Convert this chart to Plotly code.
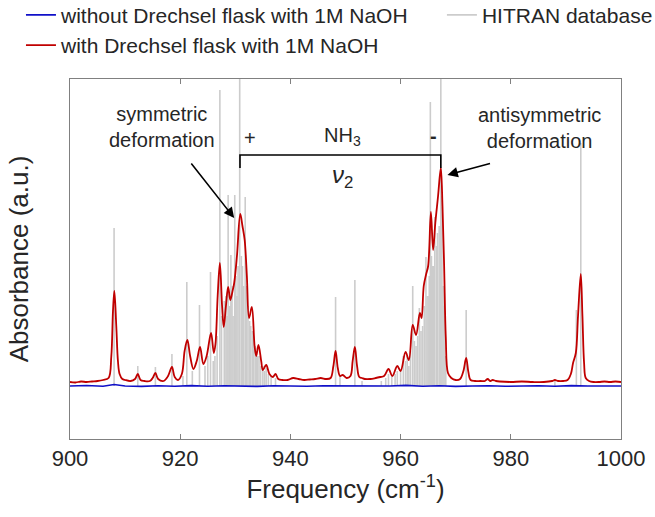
import plotly.graph_objects as go

# ---------------- data ----------------
# measured spectrum WITH Drechsel flask (red)
red_freq = [900.0, 901.0, 902.0, 903.0, 904.0, 905.0, 906.0, 907.0, 907.5, 907.8, 908.05, 908.4, 908.7, 909.0,
            909.5, 910.0, 911.0, 911.8, 912.3, 912.8, 913.5, 914.5, 915.0, 915.5, 916.0, 917.0, 917.8, 918.5,
            919.0, 919.6, 920.3, 920.8, 921.3, 921.8, 922.4, 923.0, 923.6, 924.2, 924.8, 925.6, 926.1, 926.4,
            926.8, 927.2, 927.6, 927.9, 928.3, 928.7, 929.1, 929.5, 929.8, 930.3, 930.9, 931.3, 931.7, 932.1,
            932.5, 933.0, 933.5, 933.8, 934.2, 934.7, 935.0, 935.6, 936.2, 936.8, 937.3, 937.8, 938.5, 939.5,
            940.5, 941.5, 942.5, 943.5, 944.5, 945.5, 946.5, 947.3, 947.8, 948.2, 948.6, 949.0, 949.5, 950.2,
            950.9, 951.3, 951.7, 952.1, 952.5, 953.0, 953.5, 954.5, 955.5, 956.3, 957.0, 957.8, 958.5, 959.4,
            960.0, 960.9, 961.5, 962.2, 962.8, 963.5, 963.8, 964.2, 964.6, 965.0, 965.5, 965.9, 966.3, 966.8,
            967.3, 967.6, 967.9, 968.2, 968.6, 969.2, 970.0, 970.8, 971.4, 971.9, 972.3, 972.7, 973.5, 974.5,
            975.3, 975.8, 976.3, 976.7, 977.3, 978.0, 980.0, 982.0, 984.0, 986.0, 987.5, 988.0, 988.6, 989.5,
            990.3, 990.9, 991.3, 991.8, 992.2, 992.7, 993.0, 993.3, 993.6, 994.2, 995.0, 996.0, 997.0, 998.0,
            999.0, 1000.0]
red_abs = [0.04, 0.035, 0.045, 0.04, 0.045, 0.05, 0.06, 0.08, 0.3, 0.75, 0.95, 0.6, 0.25, 0.12,
           0.07, 0.06, 0.05, 0.07, 0.12, 0.06, 0.05, 0.05, 0.08, 0.13, 0.07, 0.05, 0.1, 0.19,
           0.09, 0.06, 0.12, 0.35, 0.46, 0.3, 0.17, 0.25, 0.39, 0.22, 0.3, 0.53, 0.33, 0.42,
           0.9, 1.23, 0.8, 0.59, 0.8, 0.99, 0.86, 0.95, 1.03, 1.3, 1.72, 1.6, 1.46, 1.1,
           0.68, 0.79, 0.4, 0.3, 0.41, 0.25, 0.16, 0.21, 0.12, 0.09, 0.12, 0.07, 0.06, 0.06,
           0.08, 0.07, 0.06, 0.065, 0.07, 0.08, 0.07, 0.08, 0.2, 0.35, 0.18, 0.1, 0.11, 0.08,
           0.1, 0.25, 0.39, 0.2, 0.09, 0.08, 0.07, 0.07, 0.08, 0.09, 0.1, 0.17, 0.1, 0.2,
           0.15, 0.34, 0.26, 0.61, 0.51, 0.73, 0.68, 1.0, 1.11, 1.2, 1.74, 1.36, 1.63, 1.9,
           2.18, 1.8, 1.2, 0.49, 0.13, 0.08, 0.06, 0.07, 0.15, 0.28, 0.14, 0.06, 0.05, 0.05,
           0.05, 0.07, 0.05, 0.06, 0.05, 0.045, 0.04, 0.045, 0.04, 0.04, 0.05, 0.06, 0.05, 0.05,
           0.06, 0.12, 0.23, 0.33, 0.7, 1.12, 0.7, 0.23, 0.08, 0.05, 0.04, 0.04, 0.045, 0.04,
           0.045, 0.04]

# measured spectrum WITHOUT Drechsel flask (blue)
blue_freq = [900, 903, 906, 908, 910, 913, 916, 919, 922, 925, 928, 931, 934, 937, 940, 943, 946, 949,
             952, 955, 958, 961, 964, 967, 970, 973, 976, 979, 982, 985, 988, 991, 994, 997, 1000]
blue_abs = [0.0, 0.005, -0.003, 0.015, 0.0, -0.004, 0.003, -0.002, 0.004, -0.003, 0.002, 0.0, -0.004, 0.003,
            0.0, -0.003, 0.002, 0.0, 0.004, -0.002, 0.0, 0.006, -0.003, 0.002, -0.004, 0.0, 0.003, -0.003,
            0.0, 0.002, -0.002, 0.004, 0.0, -0.002, 0.0]

# HITRAN stick spectrum (grey)
hitran_freq = [908.0, 912.3, 915.5, 918.5, 920.5, 921.2, 922.2, 923.5, 924.5, 925.0, 925.5, 926.0, 926.3,
               926.7, 927.2, 927.5, 928.0, 928.3, 928.5, 928.7, 929.0, 929.2, 929.4, 929.6, 929.9, 930.1,
               930.3, 930.5, 930.8, 931.1, 931.3, 931.5, 931.8, 932.0, 932.3, 932.6, 932.8, 933.1, 933.3,
               933.6, 933.8, 934.0, 934.3, 934.6, 935.0, 935.3, 935.6, 936.0, 936.5, 937.3,
               948.2, 949.0, 951.7, 953.0,
               956.5, 957.3, 957.8, 958.4, 959.0, 959.4, 960.0, 960.5, 960.9, 961.2, 961.5, 961.8, 962.2,
               962.5, 962.8, 963.1, 963.4, 963.7, 964.0, 964.3, 964.6, 964.8, 965.0, 965.2, 965.4, 965.6,
               965.8, 966.0, 966.2, 966.5, 966.7, 967.0, 967.3, 967.5, 967.7, 967.9, 968.2,
               971.9, 988.0, 991.9, 992.7]
hitran_int = [1.58, 0.20, 0.19, 0.32, 0.10, 1.04, 0.15, 0.81, 0.20, 0.30, 1.14, 0.25, 0.30,
              0.50, 2.96, 0.70, 0.85, 0.90, 0.70, 1.91, 0.80, 1.31, 1.00, 0.70, 1.91, 1.10,
              0.90, 1.20, 3.50, 1.30, 1.20, 1.00, 1.89, 1.00, 0.80, 0.65, 0.60, 0.55, 0.50,
              0.40, 0.35, 0.30, 0.30, 0.20, 0.20, 0.15, 0.18, 0.12, 0.10, 0.08,
              0.89, 0.10, 1.06, 0.05,
              0.05, 0.08, 0.12, 0.10, 0.12, 0.15, 0.15, 0.30, 0.25, 0.30, 0.20, 0.35, 1.00,
              0.45, 0.40, 0.50, 0.78, 0.55, 0.60, 0.80, 1.29, 0.90, 0.90, 1.10, 2.84, 1.30,
              1.20, 1.20, 1.69, 1.40, 1.53, 1.60, 3.50, 1.90, 1.00, 0.80, 0.30,
              0.76, 0.05, 0.76, 2.43]

x_ticks = [900, 920, 940, 960, 980, 1000]

# ---------------- figure ----------------
FONT = "Liberation Sans, Arial, sans-serif"
TXT = "#262626"

hx, hy = [], []
for f, h in zip(hitran_freq, hitran_int):
    hx += [f, f, None]
    hy += [0.0, h, None]

fig = go.Figure()
fig.add_trace(go.Scatter(x=hx, y=hy, mode="lines", name="HITRAN database",
                         line=dict(color="#cccccc", width=1.6), legend="legend2",
                         connectgaps=False, hoverinfo="skip"))
fig.add_trace(go.Scatter(x=blue_freq, y=blue_abs, mode="lines",
                         name="without Drechsel flask with 1M NaOH",
                         line=dict(color="#1010c8", width=1.6), legendrank=1))
fig.add_trace(go.Scatter(x=red_freq, y=red_abs, mode="lines", line_shape="spline",
                         name="with Drechsel flask with 1M NaOH",
                         line=dict(color="#c00000", width=1.8), legendrank=2))


def txt(x, y, s, size=20):
    return dict(x=x, y=y, xref="x", yref="y", text=s, showarrow=False,
                font=dict(family=FONT, color=TXT, size=size))


def arrow(x, y, ax, ay):
    return dict(x=x, y=y, ax=ax, ay=ay, xref="x", yref="y", axref="x", ayref="y",
                text="", showarrow=True, arrowhead=2, arrowsize=1.3, arrowwidth=1.6,
                arrowcolor="black")


anns = [
    txt(916.7, 2.595, "symmetric<br>deformation"),
    txt(985.2, 2.585, "antisymmetric<br>deformation"),
    txt(932.7, 2.48, "+"),
    txt(965.9, 2.50, "<b>-</b>"),
    txt(949.5, 2.50, "NH<sub>3</sub>"),
    txt(949.4, 2.10, "<i>ν</i><sub>2</sub>", 24),
    arrow(929.8, 1.68, 921.8, 2.24),
    arrow(968.5, 2.11, 976.5, 2.23),
]
fig.update_layout(annotations=anns)

fig.add_shape(type="path", xref="x", yref="y",
              path="M 930.85,2.18 L 930.85,2.31 L 967.3,2.31 L 967.3,2.18",
              line=dict(color="black", width=1.6))

leg_common = dict(xanchor="left", yanchor="top", bgcolor="rgba(0,0,0,0)",
                  font=dict(family=FONT, size=21, color=TXT), tracegroupgap=0, itemwidth=30)

fig.update_layout(
    width=655, height=517,
    margin=dict(l=70, r=34, t=79, b=78, autoexpand=False),
    paper_bgcolor="white", plot_bgcolor="white",
    font=dict(family=FONT, color=TXT, size=21),
    showlegend=True,
    legend=dict(orientation="v", x=-0.089, y=1.234, **leg_common),
    legend2=dict(orientation="v", x=0.675, y=1.234, **leg_common),
    xaxis=dict(range=[900, 1000], tickvals=x_ticks, ticktext=[str(t) for t in x_ticks],
               ticks="inside", ticklen=5, tickcolor="#808080", mirror="ticks",
               showline=True, linecolor="#808080", linewidth=1, showgrid=False, zeroline=False,
               tickfont=dict(size=22, family=FONT, color=TXT),
               title=dict(text="Frequency (cm<sup>-1</sup>)", font=dict(size=26, family=FONT, color=TXT),
                          standoff=8)),
    yaxis=dict(range=[-0.53, 3.07], showticklabels=False, ticks="", showgrid=False, zeroline=False,
               showline=True, mirror=True, linecolor="#808080", linewidth=1,
               title=dict(text="Absorbance (a.u.)", font=dict(size=26, family=FONT, color=TXT),
                          standoff=32)),
)

fig.write_html("out.html")
